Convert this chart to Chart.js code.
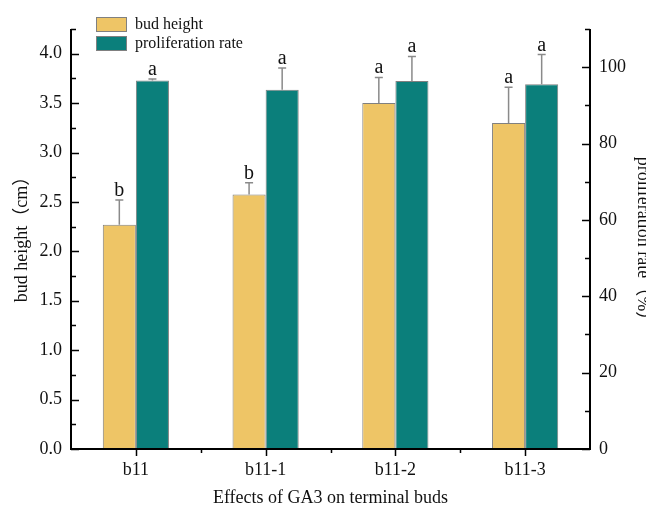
<!DOCTYPE html>
<html><head><meta charset="utf-8">
<script src="https://cdn.jsdelivr.net/npm/chart.js@4/dist/chart.umd.min.js"></script>
<style>html,body{margin:0;padding:0;background:#fff}#wrap{width:646px;height:508px}</style>
</head><body><div id="wrap"><canvas id="c" width="646" height="508"></canvas></div>
<script>
const categories = ['b11', 'b11-1', 'b11-2', 'b11-3'];
const budHeight = [2.27, 2.575, 3.50, 3.30];
const budHeightErr = [0.25, 0.12, 0.26, 0.36];
const budLetters = ['b', 'b', 'a', 'a'];
const prolifRate = [96.5, 94.1, 96.4, 95.5];
const prolifErr = [0.4, 5.7, 6.4, 7.8];
const prolifLetters = ['a', 'a', 'a', 'a'];
const leftTicks = ['0.0','0.5','1.0','1.5','2.0','2.5','3.0','3.5','4.0'];
const rightTicks = ['0','20','40','60','80','100'];
const seriesNames = ['bud height', 'proliferation rate'];
const xTitle = 'Effects of GA3 on terminal buds';
const yTitle = 'bud height（cm）';
const y1Title = 'proliferation rate（%）';

const YELLOW = '#EEC566', TEAL = '#0B7F7B', EDGE = '#808080';
const FONT = "'Liberation Serif','Noto Sans CJK SC',serif";

const axesPlugin = {
  id: 'axesPlugin',
  afterDatasetsDraw(chart) {
    const ctx = chart.ctx, a = chart.chartArea;
    const x = chart.scales.x, y = chart.scales.y, y1 = chart.scales.y1;
    ctx.save();
    const drawErr = (di, vals, errs, letters, scale) => {
      const meta = chart.getDatasetMeta(di);
      meta.data.forEach((bar, i) => {
        const top = scale.getPixelForValue(vals[i]);
        const et = scale.getPixelForValue(vals[i] + errs[i]);
        ctx.strokeStyle = '#8a8a8a'; ctx.lineWidth = 1.5;
        ctx.beginPath(); ctx.moveTo(bar.x, top); ctx.lineTo(bar.x, et);
        ctx.moveTo(bar.x - 4, et); ctx.lineTo(bar.x + 4, et); ctx.stroke();
        ctx.fillStyle = '#111'; ctx.font = '20px ' + FONT;
        ctx.textAlign = 'center'; ctx.textBaseline = 'alphabetic';
        ctx.fillText(letters[i], bar.x, et - 4);
      });
    };
    drawErr(0, budHeight, budHeightErr, budLetters, y);
    drawErr(1, prolifRate, prolifErr, prolifLetters, y1);

    ctx.strokeStyle = '#000'; ctx.lineWidth = 2; ctx.lineCap = 'butt';
    ctx.beginPath();
    ctx.moveTo(a.left, a.top); ctx.lineTo(a.left, a.bottom + 1);
    ctx.moveTo(a.left - 1, a.bottom); ctx.lineTo(a.right + 1, a.bottom);
    ctx.moveTo(a.right, a.top); ctx.lineTo(a.right, a.bottom + 1);
    ctx.stroke();
    ctx.lineWidth = 1.5;
    ctx.beginPath();
    for (let v = 0; v <= 4.25 + 1e-9; v += 0.25) {
      const p = Math.round(y.getPixelForValue(v)) + 0.5;
      const major = Math.abs(v / 0.5 - Math.round(v / 0.5)) < 1e-6;
      ctx.moveTo(a.left, p); ctx.lineTo(a.left + (major ? 8 : 5), p);
    }
    for (let v = 0; v <= 110 + 1e-9; v += 10) {
      const p = Math.round(y1.getPixelForValue(v)) + 0.5;
      const major = v % 20 === 0;
      ctx.moveTo(a.right, p); ctx.lineTo(a.right - (major ? 8 : 5), p);
    }
    categories.forEach((c, i) => {
      const p = Math.round(x.getPixelForValue(i)) + 0.5;
      ctx.moveTo(p, a.bottom); ctx.lineTo(p, a.bottom + 7);
      const b = Math.round(x.getPixelForValue(i + 0.5)) + 0.5;
      if (i < categories.length - 1) { ctx.moveTo(b, a.bottom); ctx.lineTo(b, a.bottom + 4); }
    });
    ctx.stroke();
    ctx.fillStyle = '#111'; ctx.font = '18px ' + FONT;
    ctx.textBaseline = 'middle'; ctx.textAlign = 'right';
    leftTicks.forEach(t => ctx.fillText(t, a.left - 9, y.getPixelForValue(parseFloat(t))));
    ctx.textAlign = 'left';
    rightTicks.forEach(t => ctx.fillText(t, a.right + 9, y1.getPixelForValue(parseFloat(t))));
    ctx.textAlign = 'center';
    categories.forEach((c, i) => ctx.fillText(c, x.getPixelForValue(i), a.bottom + 21));
    ctx.fillText(xTitle, (a.left + a.right) / 2, a.bottom + 49);
    ctx.save(); ctx.translate(22, (a.top + a.bottom) / 2 - 4); ctx.rotate(-Math.PI / 2);
    ctx.fillText(yTitle, 0, 0); ctx.restore();
    ctx.save(); ctx.translate(643, (a.top + a.bottom) / 2 + 4); ctx.rotate(Math.PI / 2);
    ctx.fillText(y1Title, 0, 0); ctx.restore();
    const cols = [YELLOW, TEAL];
    ctx.font = '16px ' + FONT; ctx.textAlign = 'left';
    seriesNames.forEach((n, i) => {
      const ty = 17 + i * 19;
      ctx.fillStyle = cols[i]; ctx.fillRect(96, ty, 31, 15);
      ctx.strokeStyle = EDGE; ctx.lineWidth = 1; ctx.strokeRect(96.5, ty + 0.5, 30, 14);
      ctx.fillStyle = '#111'; ctx.fillText(n, 135, ty + 8);
    });
    ctx.restore();
  }
};

new Chart(document.getElementById('c'), {
  type: 'bar',
  data: {
    labels: categories,
    datasets: [
      { label: seriesNames[0], data: budHeight, yAxisID: 'y', backgroundColor: YELLOW, borderColor: EDGE, borderWidth: 1 },
      { label: seriesNames[1], data: prolifRate, yAxisID: 'y1', backgroundColor: TEAL, borderColor: EDGE, borderWidth: 1 }
    ]
  },
  options: {
    responsive: false, animation: false,
    layout: { padding: { left: 71, right: 56, top: 29, bottom: 59 } },
    categoryPercentage: 0.51, barPercentage: 1.0,
    plugins: { legend: { display: false }, tooltip: { enabled: false } },
    scales: {
      x: { display: false, offset: true },
      y: { display: false, min: 0, max: 4.25 },
      y1: { display: false, min: 0, max: 110, position: 'right' }
    }
  },
  plugins: [axesPlugin]
});
</script></body></html>
